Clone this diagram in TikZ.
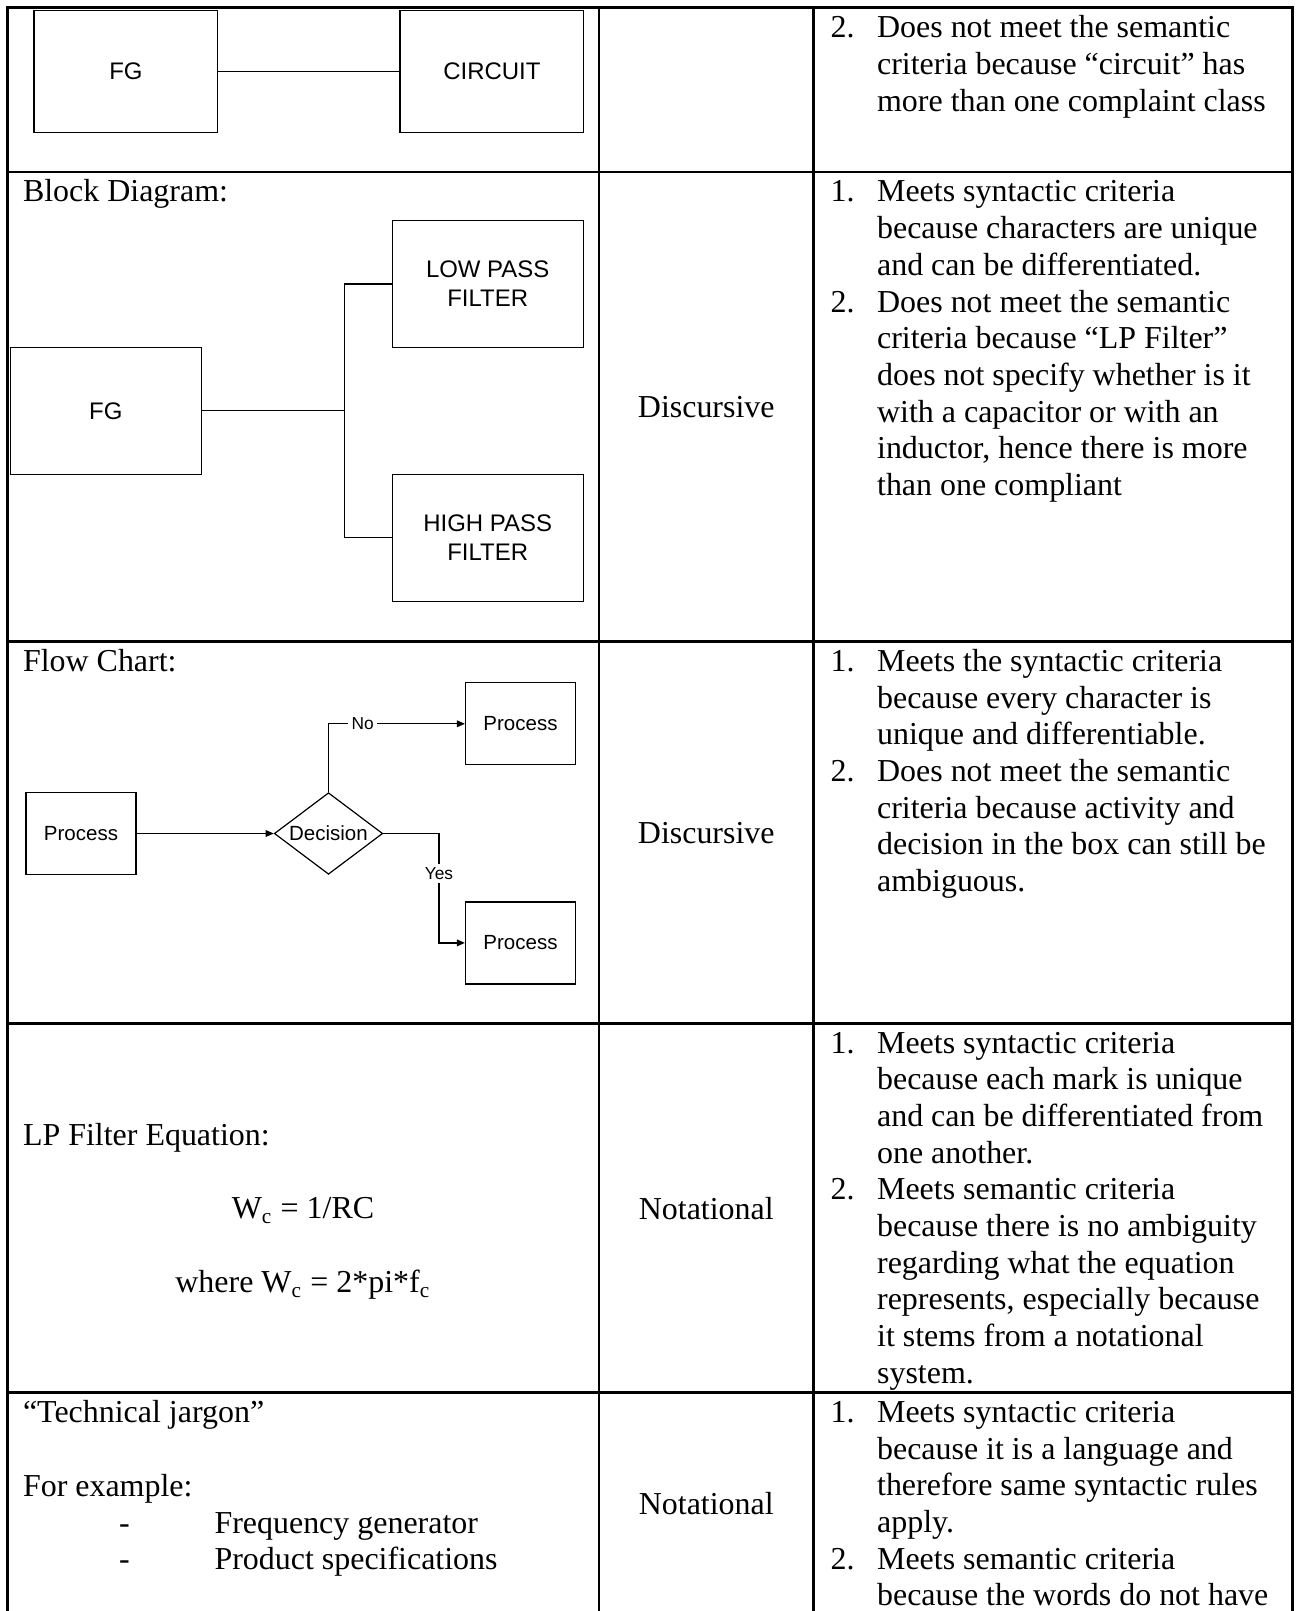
\documentclass[tikz,border=0pt]{standalone}
\usepackage{fontspec}
\setmainfont{Liberation Serif}
\newfontfamily\diagfont{Liberation Sans}
\usetikzlibrary{shapes.geometric,arrows.meta}

% one drawing unit in points
\newcommand\pxs{0.3756pt}
% numbered criteria list: number column plus text column
\newcommand\critlist[1]{\begin{tabular}[t]{@{}p{17.5pt}@{}l@{}}#1\end{tabular}}

\tikzset{
  grid/.style={line width=0.8pt, line cap=rect},
  wire/.style={line width=0.45pt},
  arr/.style={wire, -{Triangle[length=3pt,width=2.5pt]}},
  blk/.style={draw, line width=0.45pt, rectangle, inner sep=0pt, align=center,
    font=\diagfont\fontsize{9}{10.9}\selectfont},
  wideblk/.style={blk, minimum width=183.7*\pxs, minimum height=121.6*\pxs},
  filtblk/.style={blk, minimum width=191*\pxs, minimum height=126.8*\pxs},
  procblk/.style={blk, minimum width=110*\pxs, minimum height=82*\pxs,
    font=\diagfont\fontsize{7.7}{9}\selectfont},
  decblk/.style={draw, line width=0.45pt, diamond, aspect=1.33, inner sep=0pt,
    minimum width=108.4*\pxs, minimum height=81.6*\pxs,
    font=\diagfont\fontsize{7.7}{9}\selectfont},
  lab/.style={fill=white, inner sep=1.2pt, font=\diagfont\fontsize{6.5}{7.5}\selectfont},
  txt/.style={anchor=base west, inner sep=0pt},
  ctxt/.style={anchor=base, inner sep=0pt},
}

\begin{document}
\begin{tikzpicture}[x=0.3756pt, y=-0.3756pt,
  every node/.append style={font=\fontsize{12}{13.78}\selectfont}]
\useasboundingbox (0,0) rectangle (1298,1611);

% ---- table rules ----
\draw[grid] (7.5,7.5) -- (1292.5,7.5);
\foreach \yy in {172,641.5,1023.5,1392.5}
  \draw[grid] (7.5,\yy) -- (1292.5,\yy);
\foreach \xx in {7.5,599,813.5,1292.5}
  \draw[grid] (\xx,7.5) -- (\xx,1625);

% ---- row 1: FG -- CIRCUIT ----
\node[wideblk] (fgA) at (125.9,71.5) {FG};
\node[wideblk] (circ) at (491.9,71.5) {CIRCUIT};
\draw[wire] (fgA.east) -- (circ.west);

\node[txt] (critA) at (830,38) {\critlist{%
2.&Does not meet the semantic\\
&criteria because “circuit” has\\
&more than one complaint class}};

% ---- row 2: block diagram ----
\node[txt] (bdtitle) at (22.5,202) {Block Diagram:};
\node[filtblk] (lpf) at (487.7,284) {LOW PASS\\FILTER};
\node[filtblk] (fgB) at (105.8,410.8) {FG};
\node[filtblk] (hpf) at (487.7,537.7) {HIGH PASS\\FILTER};
\coordinate (bus) at (344.8,410.8);
\draw[wire] (fgB.east) -- (bus);
\draw[wire] (bus) |- (lpf.west);
\draw[wire] (bus) |- (hpf.west);

\node[ctxt] (kindB) at (706.25,418) {Discursive};
\node[txt] (critB) at (830,202) {\critlist{%
1.&Meets syntactic criteria\\
&because characters are unique\\
&and can be differentiated.\\
2.&Does not meet the semantic\\
&criteria because “LP Filter”\\
&does not specify whether is it\\
&with a capacitor or with an\\
&inductor, hence there is more\\
&than one compliant}};

% ---- row 3: flow chart ----
\node[txt] (fctitle) at (22.5,671.5) {Flow Chart:};
\node[procblk] (pstart) at (81,833.5) {Process};
\node[decblk] (dec) at (328.5,833.5) {Decision};
\node[procblk] (pno) at (520.5,723.8) {Process};
\node[procblk] (pyes) at (520.5,942.9) {Process};
\coordinate (ybend) at (439,873.3);
\draw[arr] (pstart.east) -- (dec.west);
\draw[arr] (dec.north) |- node[lab, pos=0.625] (nolab) {No} (pno.west);
\draw[wire] (dec.east) -| (ybend);
\draw[arr] (ybend) |- (pyes.west);
\node[lab] (yeslab) at (ybend) {Yes};

\node[ctxt] (kindC) at (706.25,843) {Discursive};
\node[txt] (critC) at (830,671.5) {\critlist{%
1.&Meets the syntactic criteria\\
&because every character is\\
&unique and differentiable.\\
2.&Does not meet the semantic\\
&criteria because activity and\\
&decision in the box can still be\\
&ambiguous.}};

% ---- row 4: LP filter equation ----
\node[txt] (eqtitle) at (22.5,1145) {LP Filter Equation:};
\node[ctxt] (eqA) at (303,1218.3) {W\textsubscript{c} = 1/RC};
\node[ctxt] (eqB) at (303,1292.5) {where W\textsubscript{c} = 2*pi*f\textsubscript{c}};

\node[ctxt] (kindD) at (706.25,1219) {Notational};
\node[txt] (critD) at (830,1053) {\critlist{%
1.&Meets syntactic criteria\\
&because each mark is unique\\
&and can be differentiated from\\
&one another.\\
2.&Meets semantic criteria\\
&because there is no ambiguity\\
&regarding what the equation\\
&represents, especially because\\
&it stems from a notational\\
&system.}};

% ---- row 5: technical jargon ----
\node[txt] (jtitle) at (22.5,1422.5) {“Technical jargon”};
\node[txt] (jex) at (22.5,1496) {For example:};
\node[txt] (dashA) at (118.5,1533) {-};
\node[txt] (itemA) at (214,1533) {Frequency generator};
\node[txt] (dashB) at (118.5,1569.7) {-};
\node[txt] (itemB) at (214,1569.7) {Product specifications};

\node[ctxt] (kindE) at (706.25,1514) {Notational};
\node[txt] (critE) at (830,1422.5) {\critlist{%
1.&Meets syntactic criteria\\
&because it is a language and\\
&therefore same syntactic rules\\
&apply.\\
2.&Meets semantic criteria\\
&because the words do not have}};
\end{tikzpicture}
\end{document}
